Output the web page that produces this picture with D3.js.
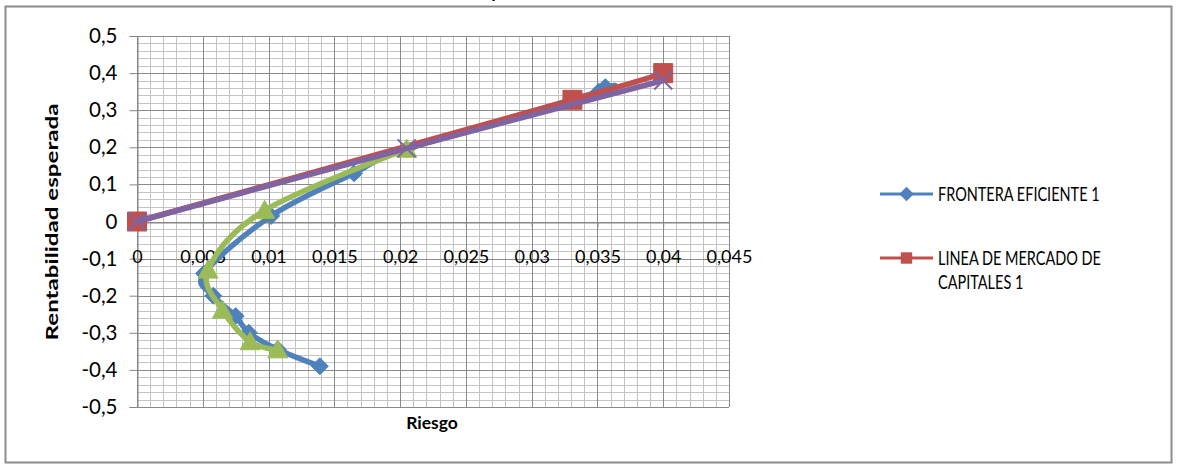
<!DOCTYPE html>
<html>
<head>
<meta charset="utf-8">
<script src="https://cdn.jsdelivr.net/npm/d3@7"></script>
<style>
  body { margin: 0; background: #fff; }
  text { font-family: Lato, "Open Sans", sans-serif; fill: #000; }
</style>
</head>
<body>
<div id="chart"></div>
<script>
// Chart data
var frontierX = [0.0139, 0.0107, 0.0085, 0.0075, 0.0058, 0.0051, 0.0102, 0.0165, 0.0205, 0.0351, 0.0356];
var frontierY = [-0.390, -0.345, -0.300, -0.255, -0.200, -0.140, 0.015, 0.130, 0.195, 0.350, 0.362];

var marketX = [0, 0.0331, 0.0400];
var marketY = [0, 0.328, 0.400];

var greenX = [0.0107, 0.0086, 0.0065, 0.0054, 0.0097, 0.0205];
var greenY = [-0.346, -0.324, -0.239, -0.131, 0.030, 0.195];

var purpleX = [0, 0.0205, 0.0400];
var purpleY = [0, 0.197, 0.380];

var xTicks = [0, 0.005, 0.01, 0.015, 0.02, 0.025, 0.03, 0.035, 0.04, 0.045];
var yTicks = [-0.5, -0.4, -0.3, -0.2, -0.1, 0, 0.1, 0.2, 0.3, 0.4, 0.5];

var legendNames = ["FRONTERA EFICIENTE 1", "LINEA DE MERCADO DE CAPITALES 1"];

// Set up chart
var svgWidth = 1178;
var svgHeight = 465;

var svg = d3.select("#chart")
  .append("svg")
  .attr("width", svgWidth)
  .attr("height", svgHeight);

// chart frame
svg.append("rect")
  .attr("x", 5.5)
  .attr("y", 6.5)
  .attr("width", 1166)
  .attr("height", 456)
  .attr("fill", "#fff")
  .attr("stroke", "#8c8c8c")
  .attr("stroke-width", 2);

// title (only the descender shows above the frame)
svg.append("text")
  .attr("x", 495)
  .attr("y", -2)
  .attr("text-anchor", "middle")
  .style("font-size", "19px")
  .style("font-weight", "bold")
  .text("y");

var xScale = d3.scaleLinear().domain([0, 0.045]).range([137, 729]);
var yScale = d3.scaleLinear().domain([-0.5, 0.5]).range([407, 36]);

var fmt = function(d) { return String(+d.toFixed(3)).replace(".", ","); };

// Gridlines: minor first, then major
var grid = svg.append("g");
var minorX = d3.range(0, 46).map(function(i) { return i * 0.001; });
var minorY = d3.range(0, 51).map(function(i) { return -0.5 + i * 0.02; });

grid.selectAll(".minor-x")
  .data(minorX)
  .enter()
  .append("line")
  .attr("x1", d => Math.round(xScale(d)) + 0.5)
  .attr("x2", d => Math.round(xScale(d)) + 0.5)
  .attr("y1", yScale(0.5))
  .attr("y2", yScale(-0.5))
  .attr("stroke", "#c4c4c4");

grid.selectAll(".minor-y")
  .data(minorY)
  .enter()
  .append("line")
  .attr("x1", xScale(0))
  .attr("x2", xScale(0.045))
  .attr("y1", d => Math.round(yScale(d)) + 0.5)
  .attr("y2", d => Math.round(yScale(d)) + 0.5)
  .attr("stroke", "#c4c4c4");

grid.selectAll(".major-x")
  .data(xTicks)
  .enter()
  .append("line")
  .attr("x1", d => Math.round(xScale(d)) + 0.5)
  .attr("x2", d => Math.round(xScale(d)) + 0.5)
  .attr("y1", yScale(0.5))
  .attr("y2", yScale(-0.5))
  .attr("stroke", "#8a8a8a");

grid.selectAll(".major-y")
  .data(yTicks)
  .enter()
  .append("line")
  .attr("x1", xScale(0))
  .attr("x2", xScale(0.045))
  .attr("y1", d => Math.round(yScale(d)) + 0.5)
  .attr("y2", d => Math.round(yScale(d)) + 0.5)
  .attr("stroke", "#8a8a8a");

// Axes
var leftAxis = d3.axisLeft(yScale).tickValues(yTicks).tickFormat(fmt).tickSize(8).tickPadding(12);
var bottomAxis = d3.axisBottom(xScale).tickValues(xTicks).tickFormat(fmt).tickSize(5);

var yAxisG = svg.append("g")
  .attr("transform", `translate(${Math.round(xScale(0)) + 0.5}, 0)`)
  .call(leftAxis);

var xAxisG = svg.append("g")
  .attr("transform", `translate(0, ${Math.round(yScale(0)) + 0.5})`)
  .call(bottomAxis);

[yAxisG, xAxisG].forEach(function(g) {
  g.select(".domain").attr("stroke", "#868686");
  g.selectAll(".tick line").attr("stroke", "#868686");
  g.selectAll("text")
    .attr("fill", "#000")
    .style("font-family", "Lato, sans-serif");
});
yAxisG.selectAll("text").style("font-size", "20.5px");
xAxisG.selectAll("text").style("font-size", "18px").attr("y", 28);

// Series
var line = d3.line()
  .x(d => xScale(d[0]))
  .y(d => yScale(d[1]))
  .curve(d3.curveCardinal.tension(0));

function zip(xs, ys) { return xs.map(function(x, i) { return [x, ys[i]]; }); }

var series = [
  { data: zip(frontierX, frontierY), color: "#4F81BD", marker: "diamond" },
  { data: zip(marketX, marketY), color: "#C0504D", marker: "square" },
  { data: zip(greenX, greenY), color: "#9BBB59", marker: "triangle" },
  { data: zip(purpleX, purpleY), color: "#8064A2", marker: "cross" }
];

function markerPath(type) {
  if (type === "diamond") return "M0,-8.5L8.5,0L0,8.5L-8.5,0Z";
  if (type === "square") return "M-9.5,-9.5H9.5V9.5H-9.5Z";
  if (type === "triangle") return "M0,-10L10,8L-10,8Z";
  return "M-9,-9L9,9M-9,9L9,-9";
}

series.forEach(function(s) {
  var g = svg.append("g");
  g.append("path")
    .attr("d", line(s.data))
    .attr("fill", "none")
    .attr("stroke", s.color)
    .attr("stroke-width", 5.5)
    .attr("stroke-linejoin", "round")
    .attr("stroke-linecap", "round");

  g.selectAll("path.mk")
    .data(s.data)
    .enter()
    .append("path")
    .attr("class", "mk")
    .attr("transform", d => `translate(${xScale(d[0])}, ${yScale(d[1])})`)
    .attr("d", markerPath(s.marker))
    .attr("fill", s.marker === "cross" ? "none" : s.color)
    .attr("stroke", s.color)
    .attr("stroke-width", s.marker === "cross" ? 2 : 1);
});

// Axis titles
svg.append("text")
  .attr("transform", "translate(58, 222) rotate(-90) scale(1.38, 1)")
  .attr("text-anchor", "middle")
  .style("font-size", "17.5px")
  .style("font-weight", "bold")
  .text("Rentabilidad esperada");

svg.append("text")
  .attr("x", 432)
  .attr("y", 429)
  .attr("text-anchor", "middle")
  .style("font-size", "17.5px")
  .style("font-weight", "bold")
  .text("Riesgo");

// Legend
var legend = svg.append("g");
var legendItems = [
  { name: legendNames[0], color: "#4F81BD", marker: "diamond", y: 194, lines: ["FRONTERA EFICIENTE 1"] },
  { name: legendNames[1], color: "#C0504D", marker: "square", y: 258, lines: ["LINEA DE MERCADO DE", "CAPITALES 1"] }
];

legendItems.forEach(function(item) {
  legend.append("line")
    .attr("x1", 880)
    .attr("x2", 933)
    .attr("y1", item.y)
    .attr("y2", item.y)
    .attr("stroke", item.color)
    .attr("stroke-width", 3);
  legend.append("path")
    .attr("transform", `translate(906.5, ${item.y}) scale(${item.marker === "square" ? 0.6 : 0.85})`)
    .attr("d", markerPath(item.marker))
    .attr("fill", item.color);
  item.lines.forEach(function(t, i) {
    legend.append("text")
      .attr("transform", `translate(938, ${item.y + 7 + i * 24}) scale(1, 1.3)`)
      .style("font-size", "14.5px")
      .text(t);
  });
});
</script>
</body>
</html>
